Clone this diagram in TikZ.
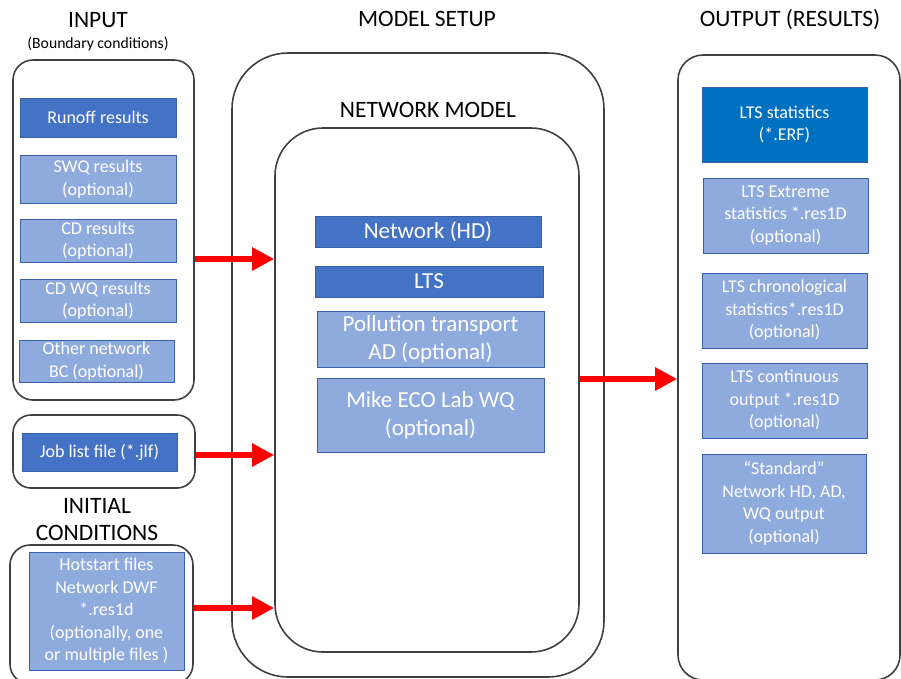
\documentclass[tikz,border=0pt]{standalone}
\usepackage{fontspec}
\setmainfont{Carlito}
\usetikzlibrary{arrows.meta}
\definecolor{darkblue}{HTML}{4472C4}
\definecolor{lightblue}{HTML}{8FAADC}
\definecolor{ltsblue}{HTML}{0070C0}
\definecolor{frameline}{HTML}{404040}
\definecolor{flowred}{HTML}{FF0000}

\begin{document}
\begin{tikzpicture}[x=1pt, y=-1pt,
  container/.style={draw=frameline, line width=1.6pt, rounded corners=#1, inner sep=0pt},
  blk/.style={draw=darkblue!85!black, line width=0.8pt, text=white, inner sep=0pt, align=center,
    font=\fontsize{18}{22.5}\selectfont},
  dark/.style={blk, fill=darkblue},
  light/.style={blk, fill=lightblue},
  big/.style={font=\fontsize{23}{28}\selectfont},
  head/.style={font=\fontsize{23.5}{27}\selectfont, align=center},
  flow/.style={draw=flowred, line width=6pt, -{Triangle[length=22pt,width=22pt]}}]
  \useasboundingbox (0,0) rectangle (901,678);

  % headings
  \node[head] (hin) at (98,20) {INPUT};
  \node[font=\fontsize{15.7}{18}\selectfont] (hbc) at (98,44) {(Boundary conditions)};
  \node[head] (hsetup) at (427,19) {MODEL SETUP};
  \node[head] (hout) at (790,20) {OUTPUT (RESULTS)};
  \node[head] (hnet) at (428,110) {NETWORK MODEL};
  \node[head] (hinit) at (97,519.5) {INITIAL\\CONDITIONS};

  % containers
  \node[container=20pt, minimum width=181pt, minimum height=340pt] (inbox) at (103.5,230) {};
  \node[container=18pt, minimum width=182pt, minimum height=73pt] (jobbox) at (104,451.5) {};
  \node[container=20pt, minimum width=183pt, minimum height=139pt] (initbox) at (101.5,614.5) {};
  \node[container=56pt, minimum width=372pt, minimum height=624pt] (setupbox) at (418,365) {};
  \node[container=48pt, minimum width=304pt, minimum height=524pt] (netbox) at (427,390) {};
  \node[container=25pt, minimum width=222pt, minimum height=625pt] (outbox) at (789,367.5) {};

  % input
  \node[dark, minimum width=156pt, minimum height=39pt] (runoff) at (98,117.5) {Runoff results};
  \node[light, minimum width=156pt, minimum height=48pt] (swq) at (98,179) {SWQ results\\(optional)};
  \node[light, minimum width=156pt, minimum height=43pt] (cd) at (98,240.5) {CD results\\(optional)};
  \node[light, minimum width=156pt, minimum height=43pt] (cdwq) at (98,300.5) {CD WQ results\\(optional)};
  \node[light, minimum width=155pt, minimum height=42pt] (other) at (96.5,361) {Other network\\BC (optional)};
  \node[dark, minimum width=155pt, minimum height=38pt] (job) at (99.5,452) {Job list file (*.jlf)};
  \node[light, minimum width=155pt, minimum height=118pt] (hot) at (106.5,611)
    {Hotstart files\\Network DWF\\*.res1d\\(optionally, one\\or multiple files )};

  % model
  \node[dark, big, minimum width=226pt, minimum height=31pt] (hd) at (428,231.5) {Network (HD)};
  \node[dark, big, minimum width=228pt, minimum height=31pt] (lts) at (429,281.5) {LTS};
  \node[light, big, minimum width=227pt, minimum height=56pt] (ad) at (430.5,339) {Pollution transport\\AD (optional)};
  \node[light, big, minimum width=227pt, minimum height=74pt] (eco) at (430.5,415) {Mike ECO Lab WQ\\(optional)};

  % output
  \node[blk, fill=ltsblue, minimum width=165pt, minimum height=75pt] (erf) at (784.5,124.5) {LTS statistics\\(*.ERF)};
  \node[light, minimum width=165pt, minimum height=75pt] (ext) at (785.5,215.5) {LTS Extreme\\statistics *.res1D\\(optional)};
  \node[light, minimum width=165pt, minimum height=75pt] (chron) at (784.5,310.5) {LTS chronological\\statistics*.res1D\\(optional)};
  \node[light, minimum width=165pt, minimum height=75pt] (cont) at (784.5,400.5) {LTS continuous\\output *.res1D\\(optional)};
  \node[light, minimum width=164pt, minimum height=99pt] (std) at (784,503.5) {“Standard”\\Network HD, AD,\\WQ output\\(optional)};

  % flows
  \draw[flow] (inbox.east |- 0,259) -- (netbox.west |- 0,259);
  \draw[flow] (jobbox.east |- 0,455) -- (netbox.west |- 0,455);
  \draw[flow] (initbox.east |- 0,608) -- (netbox.west |- 0,608);
  \draw[flow] (netbox.east |- 0,379) -- (outbox.west |- 0,379);
\end{tikzpicture}
\end{document}
